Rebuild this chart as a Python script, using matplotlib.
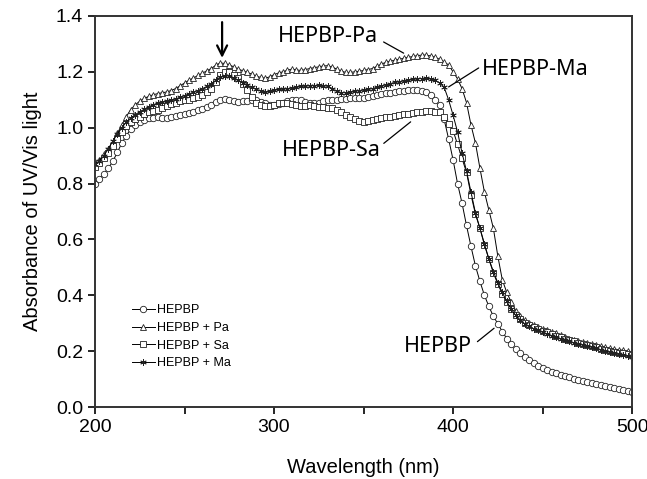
import numpy as np
import matplotlib
matplotlib.use("Agg")
import matplotlib.pyplot as plt
from matplotlib.ticker import MultipleLocator

plt.rcParams['font.family'] = ['Liberation Sans', 'DejaVu Sans']

# wavelength grid (nm), 2.5 nm sampling
wl = np.arange(200, 500.01, 2.5)

hepbp = [0.800, 0.815, 0.835, 0.855, 0.880, 0.912, 0.945, 0.972, 0.995, 1.010,
         1.022, 1.028, 1.033, 1.036, 1.037, 1.034, 1.035, 1.040, 1.043, 1.045,
         1.048, 1.052, 1.057, 1.062, 1.068, 1.075, 1.082, 1.092, 1.100, 1.102,
         1.100, 1.095, 1.093, 1.095, 1.096, 1.099, 1.098, 1.092, 1.088, 1.083,
         1.082, 1.085, 1.088, 1.094, 1.098, 1.100, 1.098, 1.093, 1.090, 1.087,
         1.088, 1.094, 1.098, 1.100, 1.100, 1.102, 1.104, 1.105, 1.106, 1.107,
         1.108, 1.110, 1.112, 1.117, 1.121, 1.124, 1.126, 1.128, 1.130, 1.132,
         1.134, 1.135, 1.134, 1.132, 1.128, 1.118, 1.100, 1.080, 1.030, 0.960,
         0.885, 0.800, 0.730, 0.650, 0.575, 0.505, 0.450, 0.400, 0.360, 0.325,
         0.298, 0.270, 0.245, 0.225, 0.207, 0.192, 0.178, 0.168, 0.158, 0.148,
         0.140, 0.133, 0.127, 0.121, 0.116, 0.111, 0.106, 0.101, 0.097, 0.093,
         0.089, 0.085, 0.082, 0.078, 0.075, 0.071, 0.067, 0.064, 0.061, 0.058,
         0.055]

hepbp_pa = [0.870, 0.885, 0.905, 0.925, 0.950, 0.980, 1.010, 1.040, 1.065, 1.082,
            1.095, 1.105, 1.112, 1.118, 1.122, 1.125, 1.128, 1.133, 1.140, 1.150,
            1.160, 1.170, 1.178, 1.187, 1.195, 1.204, 1.212, 1.224, 1.232, 1.230,
            1.225, 1.218, 1.210, 1.204, 1.198, 1.192, 1.185, 1.180, 1.177, 1.182,
            1.190, 1.196, 1.200, 1.206, 1.210, 1.207, 1.205, 1.208, 1.212, 1.215,
            1.218, 1.221, 1.222, 1.217, 1.210, 1.203, 1.198, 1.198, 1.200, 1.202,
            1.205, 1.208, 1.212, 1.220, 1.228, 1.234, 1.238, 1.242, 1.245, 1.249,
            1.252, 1.255, 1.258, 1.260, 1.260, 1.257, 1.252, 1.245, 1.235, 1.225,
            1.200, 1.175, 1.140, 1.090, 1.010, 0.945, 0.855, 0.770, 0.705, 0.640,
            0.540, 0.455, 0.410, 0.375, 0.345, 0.325, 0.310, 0.300, 0.292, 0.286,
            0.280, 0.275, 0.270, 0.264, 0.258, 0.251, 0.245, 0.240, 0.235, 0.231,
            0.228, 0.225, 0.222, 0.218, 0.215, 0.211, 0.208, 0.205, 0.203, 0.200,
            0.198]

hepbp_sa = [0.860, 0.872, 0.890, 0.910, 0.935, 0.960, 0.985, 1.005, 1.020, 1.032,
            1.040, 1.048, 1.055, 1.060, 1.065, 1.072, 1.078, 1.084, 1.090, 1.094,
            1.098, 1.101, 1.105, 1.110, 1.118, 1.128, 1.140, 1.165, 1.190, 1.198,
            1.198, 1.190, 1.178, 1.158, 1.135, 1.110, 1.090, 1.082, 1.078, 1.079,
            1.082, 1.087, 1.090, 1.088, 1.085, 1.080, 1.078, 1.079, 1.080, 1.078,
            1.075, 1.074, 1.072, 1.069, 1.065, 1.055, 1.045, 1.037, 1.030, 1.025,
            1.022, 1.024, 1.028, 1.032, 1.035, 1.038, 1.040, 1.043, 1.045, 1.048,
            1.050, 1.053, 1.055, 1.058, 1.060, 1.060, 1.058, 1.055, 1.040, 1.015,
            0.990, 0.940, 0.890, 0.840, 0.760, 0.690, 0.640, 0.580, 0.530, 0.480,
            0.440, 0.405, 0.375, 0.350, 0.330, 0.315, 0.302, 0.293, 0.285, 0.278,
            0.272, 0.267, 0.262, 0.256, 0.250, 0.245, 0.240, 0.235, 0.230, 0.226,
            0.222, 0.218, 0.214, 0.209, 0.205, 0.201, 0.198, 0.195, 0.192, 0.188,
            0.185]

hepbp_ma = [0.870, 0.882, 0.900, 0.925, 0.952, 0.978, 1.000, 1.020, 1.035, 1.047,
            1.057, 1.066, 1.075, 1.082, 1.088, 1.092, 1.095, 1.099, 1.103, 1.109,
            1.115, 1.121, 1.127, 1.133, 1.140, 1.148, 1.158, 1.170, 1.182, 1.186,
            1.185, 1.179, 1.170, 1.161, 1.152, 1.145, 1.138, 1.132, 1.127, 1.130,
            1.135, 1.137, 1.138, 1.140, 1.142, 1.145, 1.148, 1.149, 1.150, 1.151,
            1.152, 1.151, 1.148, 1.140, 1.130, 1.126, 1.125, 1.127, 1.130, 1.133,
            1.135, 1.137, 1.140, 1.145, 1.150, 1.154, 1.158, 1.162, 1.165, 1.168,
            1.170, 1.173, 1.175, 1.176, 1.177, 1.175, 1.170, 1.160, 1.145, 1.100,
            1.045, 0.985, 0.910, 0.845, 0.770, 0.695, 0.640, 0.585, 0.530, 0.485,
            0.445, 0.410, 0.378, 0.350, 0.328, 0.312, 0.298, 0.289, 0.280, 0.274,
            0.268, 0.262, 0.256, 0.250, 0.245, 0.240, 0.235, 0.230, 0.226, 0.222,
            0.218, 0.214, 0.210, 0.205, 0.200, 0.196, 0.192, 0.188, 0.185, 0.181,
            0.178]

labels = ["HEPBP", "HEPBP + Pa", "HEPBP + Sa", "HEPBP + Ma"]
markers = ["o", "^", "s", (6, 2, 0)]

fig = plt.figure(figsize=(6.47, 4.79), dpi=100)
ax = fig.add_axes([0.1468, 0.1503, 0.8302, 0.8163])

for y, lab, m in zip([hepbp, hepbp_pa, hepbp_sa, hepbp_ma], labels, markers):
    ax.plot(wl, y, color="black", lw=0.7, marker=m, markersize=4.6,
            markerfacecolor="white", markeredgecolor="#222222",
            markeredgewidth=0.6, label=lab)

ax.set_xlim(200, 500)
ax.set_ylim(0, 1.4)
ax.xaxis.set_major_locator(MultipleLocator(100))
ax.xaxis.set_minor_locator(MultipleLocator(50))
ax.yaxis.set_major_locator(MultipleLocator(0.2))
ax.yaxis.set_major_formatter(plt.FormatStrFormatter('%.1f'))
ax.tick_params(which="both", direction="out", length=5, width=1.2, labelsize=14)
ax.tick_params(top=False, right=False)
for s in ax.spines.values():
    s.set_linewidth(1.4)
    s.set_color("#333333")

ax.set_xlabel("Wavelength (nm)", fontsize=14.5, labelpad=16)
ax.set_ylabel("Absorbance of UV/Vis light", fontsize=14.5, labelpad=10)

leg = ax.legend(loc="upper left", bbox_to_anchor=(0.06, 0.275), frameon=False,
                fontsize=9, handlelength=1.8, handletextpad=0.2,
                labelspacing=0.45, borderaxespad=0)

# curve labels with short leader lines
tkw = dict(fontsize=15.5, family=["Noto Sans", "DejaVu Sans"], ha="center", va="center")
lkw = dict(arrowstyle="-", lw=0.9, color="black", shrinkA=0, shrinkB=0)
ax.annotate("HEPBP-Pa", xy=(330, 1.328), **tkw)
ax.annotate("", xy=(372.4, 1.267), xytext=(361.2, 1.307), arrowprops=lkw)
ax.annotate("HEPBP-Ma", xy=(446, 1.207), **tkw)
ax.annotate("", xy=(397.5, 1.146), xytext=(414.3, 1.214), arrowprops=lkw)
ax.annotate("HEPBP-Sa", xy=(332, 0.917), **tkw)
ax.annotate("", xy=(376.3, 1.021), xytext=(361.3, 0.944), arrowprops=lkw)
ax.annotate("HEPBP", xy=(391.7, 0.218), **tkw)
ax.annotate("", xy=(422.9, 0.282), xytext=(413.6, 0.234), arrowprops=lkw)

# arrow marking the 270 nm band
ax.annotate("", xy=(271, 1.25), xytext=(271, 1.378),
            arrowprops=dict(arrowstyle="->", lw=1.6, color="black",
                            mutation_scale=18, shrinkA=0, shrinkB=0))

fig.savefig("out.png", dpi=100)
